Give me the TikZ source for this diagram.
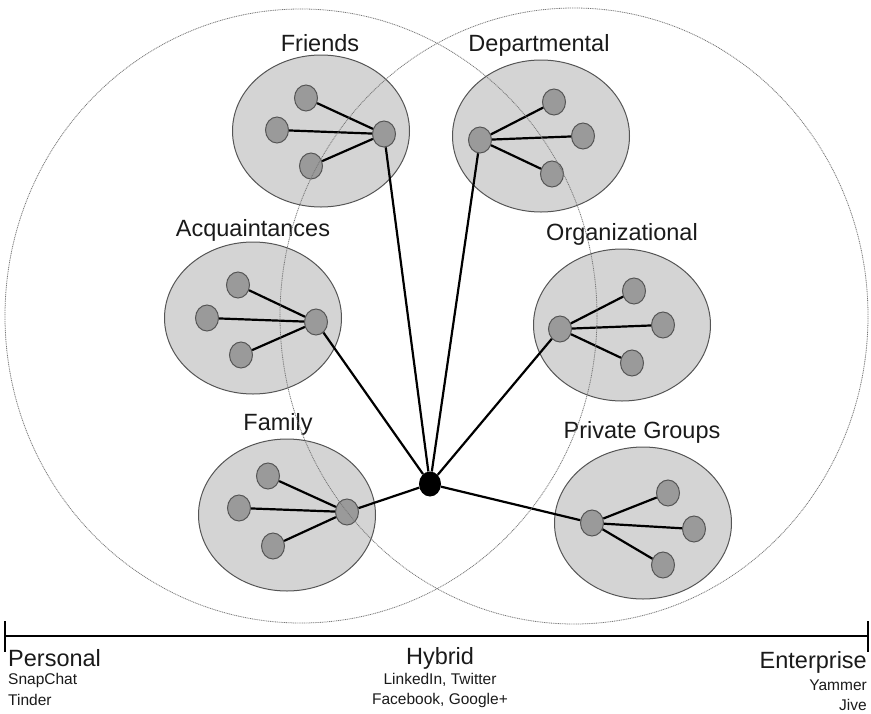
\documentclass[tikz,border=0pt]{standalone}
\usepackage{fontspec}
\setmainfont{Liberation Sans}
\usetikzlibrary{shapes.geometric}
\definecolor{clfill}{HTML}{D4D4D4}
\definecolor{clline}{HTML}{555555}
\definecolor{leaffill}{HTML}{9A9A9A}
\definecolor{txt}{HTML}{1A1A1A}
\definecolor{bigline}{HTML}{777777}
\tikzset{
  cluster/.style={ellipse, draw=clline, fill=clfill, line width=1pt, minimum width=177pt, minimum height=152pt, inner sep=0pt},
  leaf/.style={ellipse, draw=clline, fill=leaffill, line width=1pt, minimum width=23pt, minimum height=26pt, inner sep=0pt},
  hubnode/.style={ellipse, fill=black, minimum width=22pt, minimum height=25pt, inner sep=0pt},
  edge/.style={line width=2.2pt, black},
  big/.style={draw=bigline, line width=0.8pt, dash pattern=on 1pt off 0.8pt},
  lbl/.style={font=\fontsize{23.5}{26}\selectfont, text=txt, inner sep=0pt},
  sml/.style={font=\fontsize{15.5}{18}\selectfont, text=txt, inner sep=0pt},
  axis/.style={line width=2.6pt, black},
  tick/.style={line width=1.8pt, black}
}
\begin{document}
\begin{tikzpicture}[x=1pt,y=-1pt]
\useasboundingbox (0,0) rectangle (871,713);
% clusters
\node[cluster] (frC) at (321,131) {};
\node[cluster] (deC) at (541,136) {};
\node[cluster] (acC) at (253,318) {};
\node[cluster] (orC) at (622,325) {};
\node[cluster] (faC) at (287,515) {};
\node[cluster] (pgC) at (643,523) {};
% labels
\node[lbl] (frL) at (320,43) {Friends};
\node[lbl] (deL) at (539,45) {Departmental};
\node[lbl] (acL) at (253,230) {Acquaintances};
\node[lbl] (orL) at (622,234) {Organizational};
\node[lbl] (faL) at (278,424) {Family};
\node[lbl] (pgL) at (642,432) {Private Groups};
% center node
\node[hubnode] (c) at (430,484) {};
% hubs and leaves
\node[leaf] (frH) at (384,134) {};
\node[leaf] (fr1) at (306,98) {};
\node[leaf] (fr2) at (277,130) {};
\node[leaf] (fr3) at (311,166) {};
\node[leaf] (deH) at (480,140) {};
\node[leaf] (de1) at (554,102) {};
\node[leaf] (de2) at (583,136) {};
\node[leaf] (de3) at (552,174) {};
\node[leaf] (acH) at (316,322) {};
\node[leaf] (ac1) at (238,285) {};
\node[leaf] (ac2) at (207,318) {};
\node[leaf] (ac3) at (241,355) {};
\node[leaf] (orH) at (560,329) {};
\node[leaf] (or1) at (634,291) {};
\node[leaf] (or2) at (663,325) {};
\node[leaf] (or3) at (632,363) {};
\node[leaf] (faH) at (347,512) {};
\node[leaf] (fa1) at (268,476) {};
\node[leaf] (fa2) at (239,508) {};
\node[leaf] (fa3) at (273,546) {};
\node[leaf] (pgH) at (592,523) {};
\node[leaf] (pg1) at (668,493) {};
\node[leaf] (pg2) at (694,529) {};
\node[leaf] (pg3) at (663,565) {};
% edges
\foreach \g in {fr,de,ac,or,fa,pg}{
  \draw[edge] (c) -- (\g H);
  \foreach \i in {1,2,3}{ \draw[edge] (\g H) -- (\g\i); }
}
% big circles
\draw[big] (301,316) ellipse [x radius=296, y radius=307];
\draw[big] (574,316) ellipse [x radius=294, y radius=308];
% axis
\coordinate (axL) at (5,636);
\coordinate (axR) at (868,636);
\coordinate (tL1) at (5,621);
\coordinate (tL2) at (5,652);
\coordinate (tR1) at (868,621);
\coordinate (tR2) at (868,652);
\draw[axis] (axL) -- (axR);
\draw[tick] (tL1) -- (tL2);
\draw[tick] (tR1) -- (tR2);
% bottom labels
\node[lbl, anchor=west] (pers) at (8,658) {Personal};
\node[sml, anchor=west] (snap) at (8,680) {SnapChat};
\node[sml, anchor=west] (tind) at (8,700) {Tinder};
\node[lbl] (hyb) at (440,658) {Hybrid};
\node[sml] (lnk) at (440,680) {LinkedIn, Twitter};
\node[sml] (fb) at (440,700) {Facebook, Google+};
\node[lbl, anchor=east] (ent) at (867,662) {Enterprise};
\node[sml, anchor=east] (yam) at (867,685) {Yammer};
\node[sml, anchor=east] (jive) at (867,705) {Jive};
\end{tikzpicture}
\end{document}
